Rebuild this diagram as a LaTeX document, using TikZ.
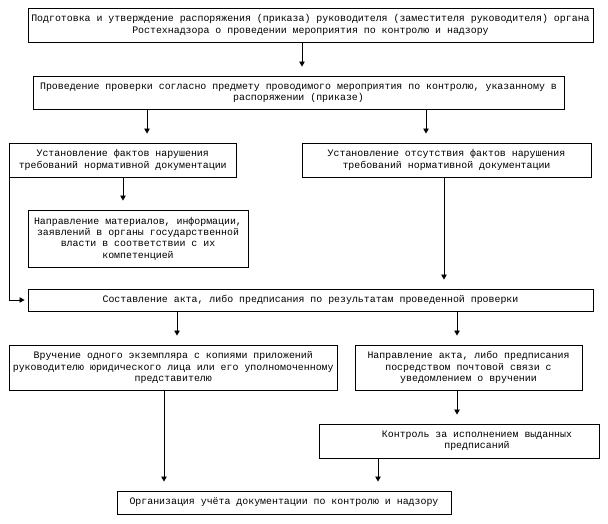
\documentclass[tikz,border=0pt]{standalone}
\usepackage{fontspec}
\setmainfont{Liberation Mono}
\usetikzlibrary{arrows.meta}
\tikzset{
  box/.style={draw, line width=0.9pt, inner xsep=1pt, inner ysep=1pt, align=center,
    font=\fontsize{9.9pt}{11.4pt}\selectfont},
  arr/.style={line width=0.8pt, -{Triangle[width=5.5pt,length=5pt]}, shorten >=9pt},
  arrs/.style={line width=0.8pt, -{Triangle[width=5.5pt,length=5pt]}, shorten >=3pt}
}
\begin{document}
\begin{tikzpicture}[x=1pt,y=-1pt]
\useasboundingbox (0,0) rectangle (608,524);
\node[box, minimum width=565pt, minimum height=34pt] (b1) at (310.5,25)
  {Подготовка и утверждение распоряжения (приказа) руководителя (заместителя руководителя) органа\\Ростехнадзора о проведении мероприятия по контролю и надзору};
\node[box, minimum width=531pt, minimum height=33pt] (b2) at (298.5,92.5)
  {Проведение проверки согласно предмету проводимого мероприятия по контролю, указанному в\\распоряжении (приказе)};
\node[box, minimum width=226.5pt, minimum height=34pt] (b3) at (122.75,160)
  {Установление фактов нарушения\\требований нормативной документации};
\node[box, minimum width=289pt, minimum height=34pt] (b4) at (446.5,160)
  {Установление отсутствия фактов нарушения\\требований нормативной документации};
\node[box, minimum width=220pt, minimum height=57pt] (b5) at (138,238.5)
  {Направление материалов, информации,\\заявлений в органы государственной\\власти в соответствии с их\\компетенцией};
\node[box, minimum width=565pt, minimum height=22pt] (b6) at (310.5,300)
  {Составление акта, либо предписания по результатам проведенной проверки};
\node[box, minimum width=327.5pt, minimum height=45pt] (b7) at (173.25,367.5)
  {Вручение одного экземпляра с копиями приложений\\руководителю юридического лица или его уполномоченному\\представителю};
\node[box, minimum width=227pt, minimum height=45pt] (b8) at (468.5,367.5)
  {Направление акта, либо предписания\\посредством почтовой связи с\\уведомлением о вручении};
\node[box, minimum width=280pt, minimum height=34pt] (b9) at (459,441)
  {\hspace*{36pt}Контроль за исполнением выданных\\\hspace*{36pt}предписаний};
\node[box, minimum width=334pt, minimum height=23pt] (b10) at (284,502.5)
  {Организация учёта документации по контролю и надзору};
\coordinate (c302) at (302,0);
\coordinate (c147) at (147,0);
\coordinate (c426) at (426,0);
\coordinate (c123) at (123,0);
\coordinate (c444) at (444,0);
\coordinate (c177) at (177,0);
\coordinate (c457) at (457,0);
\coordinate (c164) at (164,0);
\coordinate (c378) at (378,0);
\draw[arr] (b1.south -| c302) -- (b2.north -| c302);
\draw[arr] (b2.south -| c147) -- (b3.north -| c147);
\draw[arr] (b2.south -| c426) -- (b4.north -| c426);
\draw[arr] (b3.south -| c123) -- (b5.north -| c123);
\draw[arrs] (b3.south west) |- (b6.west);
\draw[arr] (b4.south -| c444) -- (b6.north -| c444);
\draw[arr] (b6.south -| c177) -- (b7.north -| c177);
\draw[arr] (b6.south -| c457) -- (b8.north -| c457);
\draw[arr] (b8.south -| c457) -- (b9.north -| c457);
\draw[arr] (b7.south -| c164) -- (b10.north -| c164);
\draw[arr] (b9.south -| c378) -- (b10.north -| c378);
\end{tikzpicture}
\end{document}
